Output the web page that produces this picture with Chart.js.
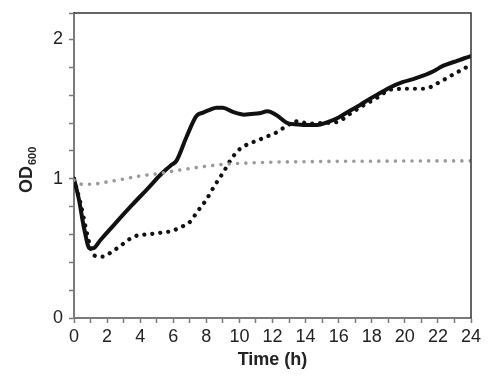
<!DOCTYPE html>
<html>
<head>
<meta charset="utf-8">
<script src="https://cdn.jsdelivr.net/npm/chart.js@4"></script>
<style>
html,body{margin:0;padding:0;background:#fff;}
#wrap{width:499px;height:383px;}
</style>
</head>
<body>
<div id="wrap"><canvas id="c" width="499" height="383"></canvas></div>
<script>
// Solid black series
const solidTime = [0, 0.3, 0.6, 0.95, 1.15, 1.6, 2.5, 3.5, 4.5, 5.2, 5.6, 5.9, 6.2, 6.8, 7.4, 7.8, 8.2, 8.6, 9.0, 9.6, 10.3, 10.7, 11.2, 11.7, 12.2, 12.9, 13.5, 14.1, 14.7, 15.3, 16.0, 16.7, 17.3, 17.9, 18.5, 19.1, 19.9, 20.5, 21.1, 21.7, 22.3, 23.0, 23.6, 24];
const solidOD   = [1.0, 0.85, 0.65, 0.50, 0.50, 0.56, 0.68, 0.81, 0.935, 1.025, 1.07, 1.10, 1.13, 1.30, 1.45, 1.475, 1.495, 1.51, 1.51, 1.48, 1.46, 1.465, 1.47, 1.485, 1.46, 1.40, 1.39, 1.385, 1.385, 1.405, 1.44, 1.49, 1.53, 1.575, 1.615, 1.655, 1.695, 1.715, 1.74, 1.77, 1.81, 1.84, 1.865, 1.88];

// Black dotted series
const dotTime = [0, 0.4, 0.8, 1.1, 1.3, 1.75, 2.2, 2.6, 3.0, 3.4, 3.9, 4.4, 4.9, 5.4, 5.9, 6.3, 6.7, 7.1, 7.4, 8.0, 8.5, 9.1, 9.5, 9.9, 10.3, 10.7, 11.2, 11.7, 12.2, 12.6, 13.0, 13.3, 13.8, 14.3, 15.0, 15.9, 16.7, 17.5, 18.3, 19.1, 19.6, 20.1, 20.6, 21.1, 21.6, 22.0, 22.5, 23.0, 23.5, 24];
const dotOD   = [1.0, 0.82, 0.6, 0.47, 0.445, 0.44, 0.468, 0.50, 0.535, 0.569, 0.595, 0.60, 0.607, 0.615, 0.624, 0.643, 0.667, 0.70, 0.755, 0.85, 0.95, 1.06, 1.14, 1.20, 1.235, 1.257, 1.28, 1.305, 1.33, 1.36, 1.39, 1.414, 1.405, 1.395, 1.40, 1.407, 1.467, 1.527, 1.58, 1.639, 1.645, 1.646, 1.646, 1.646, 1.66, 1.687, 1.72, 1.754, 1.785, 1.82];

// Grey dotted series
const greyTime = [0, 0.5, 1, 2, 3, 4, 5, 6, 7, 8, 9, 10, 11, 12, 14, 16, 18, 20, 22, 24];
const greyOD   = [0.99, 0.96, 0.96, 0.977, 0.998, 1.02, 1.035, 1.055, 1.073, 1.09, 1.103, 1.11, 1.115, 1.119, 1.122, 1.125, 1.126, 1.127, 1.128, 1.128];

// Axis tick labels
const xTickLabels = [0, 2, 4, 6, 8, 10, 12, 14, 16, 18, 20, 22, 24];
const yTickLabels = [0, 1, 2];

const toPts = (ts, vs) => ts.map((t, i) => ({x: t, y: vs[i]}));

const frame = {
  id: 'frame',
  afterDraw(chart) {
    const {ctx, chartArea: a} = chart;
    ctx.save();
    ctx.strokeStyle = '#333';
    ctx.lineWidth = 1.5;
    ctx.beginPath();
    ctx.moveTo(a.left, a.top);
    ctx.lineTo(a.right, a.top);
    ctx.lineTo(a.right, a.bottom);
    ctx.stroke();
    // y-axis title with subscript
    ctx.fillStyle = '#222';
    ctx.translate(32, 193);
    ctx.rotate(-Math.PI / 2);
    ctx.textBaseline = 'alphabetic';
    ctx.textAlign = 'left';
    ctx.font = 'bold 18px "Liberation Sans", Arial, sans-serif';
    ctx.fillText('OD', 0, 0);
    const w = ctx.measureText('OD').width;
    ctx.font = 'bold 11px "Liberation Sans", Arial, sans-serif';
    ctx.fillText('600', w + 1, 4);
    ctx.restore();
  }
};

new Chart(document.getElementById('c'), {
  type: 'line',
  data: {
    datasets: [
      {
        data: toPts(greyTime, greyOD),
        borderColor: '#9a9a9a',
        borderWidth: 3.6,
        borderDash: [0.01, 8.3],
        borderCapStyle: 'round',
        pointRadius: 0,
        cubicInterpolationMode: 'monotone',
        fill: false
      },
      {
        data: toPts(dotTime, dotOD),
        borderColor: '#111',
        borderWidth: 4.2,
        borderDash: [0.01, 8],
        borderCapStyle: 'round',
        pointRadius: 0,
        cubicInterpolationMode: 'monotone',
        fill: false
      },
      {
        data: toPts(solidTime, solidOD),
        borderColor: '#111',
        borderWidth: 4,
        borderJoinStyle: 'round',
        borderCapStyle: 'round',
        pointRadius: 0,
        cubicInterpolationMode: 'monotone',
        fill: false
      }
    ]
  },
  options: {
    responsive: false,
    animation: false,
    devicePixelRatio: 1,
    layout: {padding: {top: 13, right: 28, left: 0, bottom: 0}},
    plugins: {legend: {display: false}, tooltip: {enabled: false}},
    scales: {
      x: {
        type: 'linear',
        min: 0, max: 24,
        afterFit(s) { s.height = 65; s.paddingLeft = 0; s.paddingRight = 0; },
        border: {display: true, color: '#7a7a7a', width: 2},
        grid: {drawOnChartArea: false, drawTicks: true, tickLength: 5, tickColor: '#7a7a7a', tickWidth: 1.5},
        ticks: {
          stepSize: 1, autoSkip: false, maxRotation: 0, padding: 3,
          color: '#222',
          font: {family: '"Liberation Sans", Arial, sans-serif', size: 18},
          callback: v => xTickLabels.includes(v) ? String(v) : ''
        },
        title: {
          display: true, text: 'Time (h)', color: '#222',
          font: {family: '"Liberation Sans", Arial, sans-serif', size: 18, weight: 'bold'},
          padding: {top: 0, bottom: 12}
        }
      },
      y: {
        type: 'linear',
        min: 0, max: 2.19,
        afterFit(s) { s.width = 74; s.paddingTop = 0; s.paddingBottom = 0; },
        border: {display: true, color: '#7a7a7a', width: 2},
        grid: {drawOnChartArea: false, drawTicks: true, tickLength: 5, tickColor: '#7a7a7a', tickWidth: 1.5},
        ticks: {
          stepSize: 0.2, autoSkip: false, padding: 6,
          color: '#222',
          font: {family: '"Liberation Sans", Arial, sans-serif', size: 18},
          callback: v => {
            const r = Math.round(v);
            return (Math.abs(v - r) < 1e-6 && yTickLabels.includes(r)) ? String(r) : '';
          }
        }
      }
    }
  },
  plugins: [frame]
});
</script>
</body>
</html>
